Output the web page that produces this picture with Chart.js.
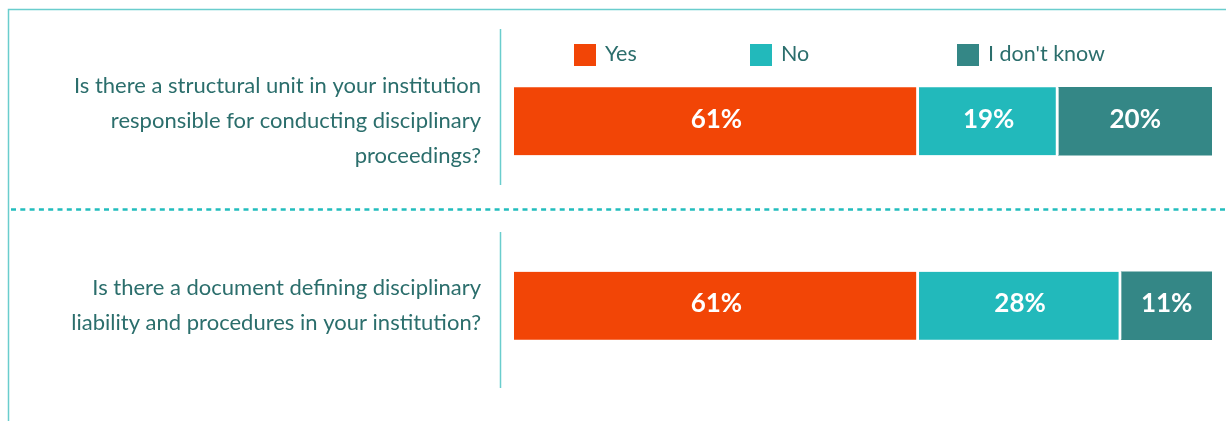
<!DOCTYPE html>
<html><head><meta charset="utf-8">
<script src="https://cdn.jsdelivr.net/npm/chart.js@4/dist/chart.umd.min.js"></script>
<style>html,body{margin:0;padding:0;background:#fff;overflow:hidden}</style>
</head><body>
<canvas id="c" width="1226" height="421"></canvas>
<script>
// ---- data ----
const questions = [
  ["Is there a structural unit in your institution", "responsible for conducting disciplinary", "proceedings?"],
  ["Is there a document defining disciplinary", "liability and procedures in your institution?"]
];
const seriesNames = ["Yes", "No", "I don't know"];
// bar lengths as drawn in the picture (percent of the full bar)
const yesValues = [58, 58];
const noValues = [20, 29];
const dontKnowValues = [22, 13];
// labels printed on the bars
const yesLabels = ["61%", "61%"];
const noLabels = ["19%", "28%"];
const dontKnowLabels = ["20%", "11%"];

// ---- styles ----
const COLORS = ["#F24506", "#22B9BB", "#348786"];
const TEXT = "#2B6E6C";
const FRAME = "#6ACDCD";
const FONT = "Lato, 'Open Sans', sans-serif";

const labelSets = [yesLabels, noLabels, dontKnowLabels];

const decor = {
  id: 'decor',
  beforeDraw(chart) {
    const ctx = chart.ctx;
    ctx.save();
    ctx.strokeStyle = FRAME;
    ctx.lineWidth = 1.5;
    ctx.beginPath();
    ctx.moveTo(8.5, 421); ctx.lineTo(8.5, 9.5); ctx.lineTo(1226, 9.5);
    ctx.stroke();
    ctx.beginPath();
    ctx.moveTo(500.5, 29); ctx.lineTo(500.5, 185);
    ctx.moveTo(500.5, 232); ctx.lineTo(500.5, 388);
    ctx.stroke();
    ctx.strokeStyle = "#22BDBD";
    ctx.lineWidth = 2.5;
    ctx.setLineDash([5, 4.3]);
    ctx.beginPath();
    ctx.moveTo(11, 209.5); ctx.lineTo(1226, 209.5);
    ctx.stroke();
    ctx.restore();
  },
  afterDatasetsDraw(chart) {
    const ctx = chart.ctx;
    ctx.save();
    ctx.fillStyle = "#ffffff";
    ctx.font = "bold 26px " + FONT;
    ctx.textAlign = "center";
    ctx.textBaseline = "middle";
    chart.data.datasets.forEach((ds, di) => {
      const meta = chart.getDatasetMeta(di);
      meta.data.forEach((el, i) => {
        const cx = (el.x + el.base) / 2;
        ctx.fillText(labelSets[di][i], cx, el.y - 2);
      });
    });
    ctx.restore();
  },
  afterDraw(chart) {
    const ctx = chart.ctx;
    const left = chart.chartArea.left;
    const offsets = [60, 236, 443];
    ctx.save();
    ctx.font = "21.5px " + FONT;
    ctx.textBaseline = "middle";
    ctx.textAlign = "left";
    chart.data.datasets.forEach((ds, di) => {
      const x = left + offsets[di];
      ctx.fillStyle = ds.backgroundColor;
      ctx.fillRect(x, 44, 22, 22);
      ctx.fillStyle = TEXT;
      ctx.fillText(ds.label, x + 31, 54);
    });
    ctx.restore();
  }
};

const values = [yesValues, noValues, dontKnowValues];

new Chart(document.getElementById('c'), {
  type: 'bar',
  data: {
    labels: questions,
    datasets: seriesNames.map((name, i) => ({
      label: name,
      data: values[i],
      backgroundColor: COLORS[i],
      borderColor: "#ffffff",
      borderWidth: i < 2 ? {right: 3, left: 0, top: 0, bottom: 0} : 0,
      borderSkipped: false,
      barThickness: 68
    }))
  },
  options: {
    indexAxis: 'y',
    responsive: false,
    animation: false,
    devicePixelRatio: 1,
    layout: { padding: { top: 29, bottom: 23, left: 0, right: 14 } },
    plugins: { legend: { display: false }, tooltip: { enabled: false } },
    scales: {
      x: { stacked: true, min: 0, max: 100, display: false },
      y: {
        stacked: true,
        grid: { display: false, drawTicks: false },
        border: { display: false },
        ticks: {
          color: TEXT,
          padding: 33,
          font: { family: FONT, size: 22, lineHeight: 1.59 }
        },
        afterFit(scale) {
          scale.width = 514;
          scale.paddingTop = 0;
          scale.paddingBottom = 0;
        }
      }
    }
  },
  plugins: [decor]
});
</script>
</body></html>
